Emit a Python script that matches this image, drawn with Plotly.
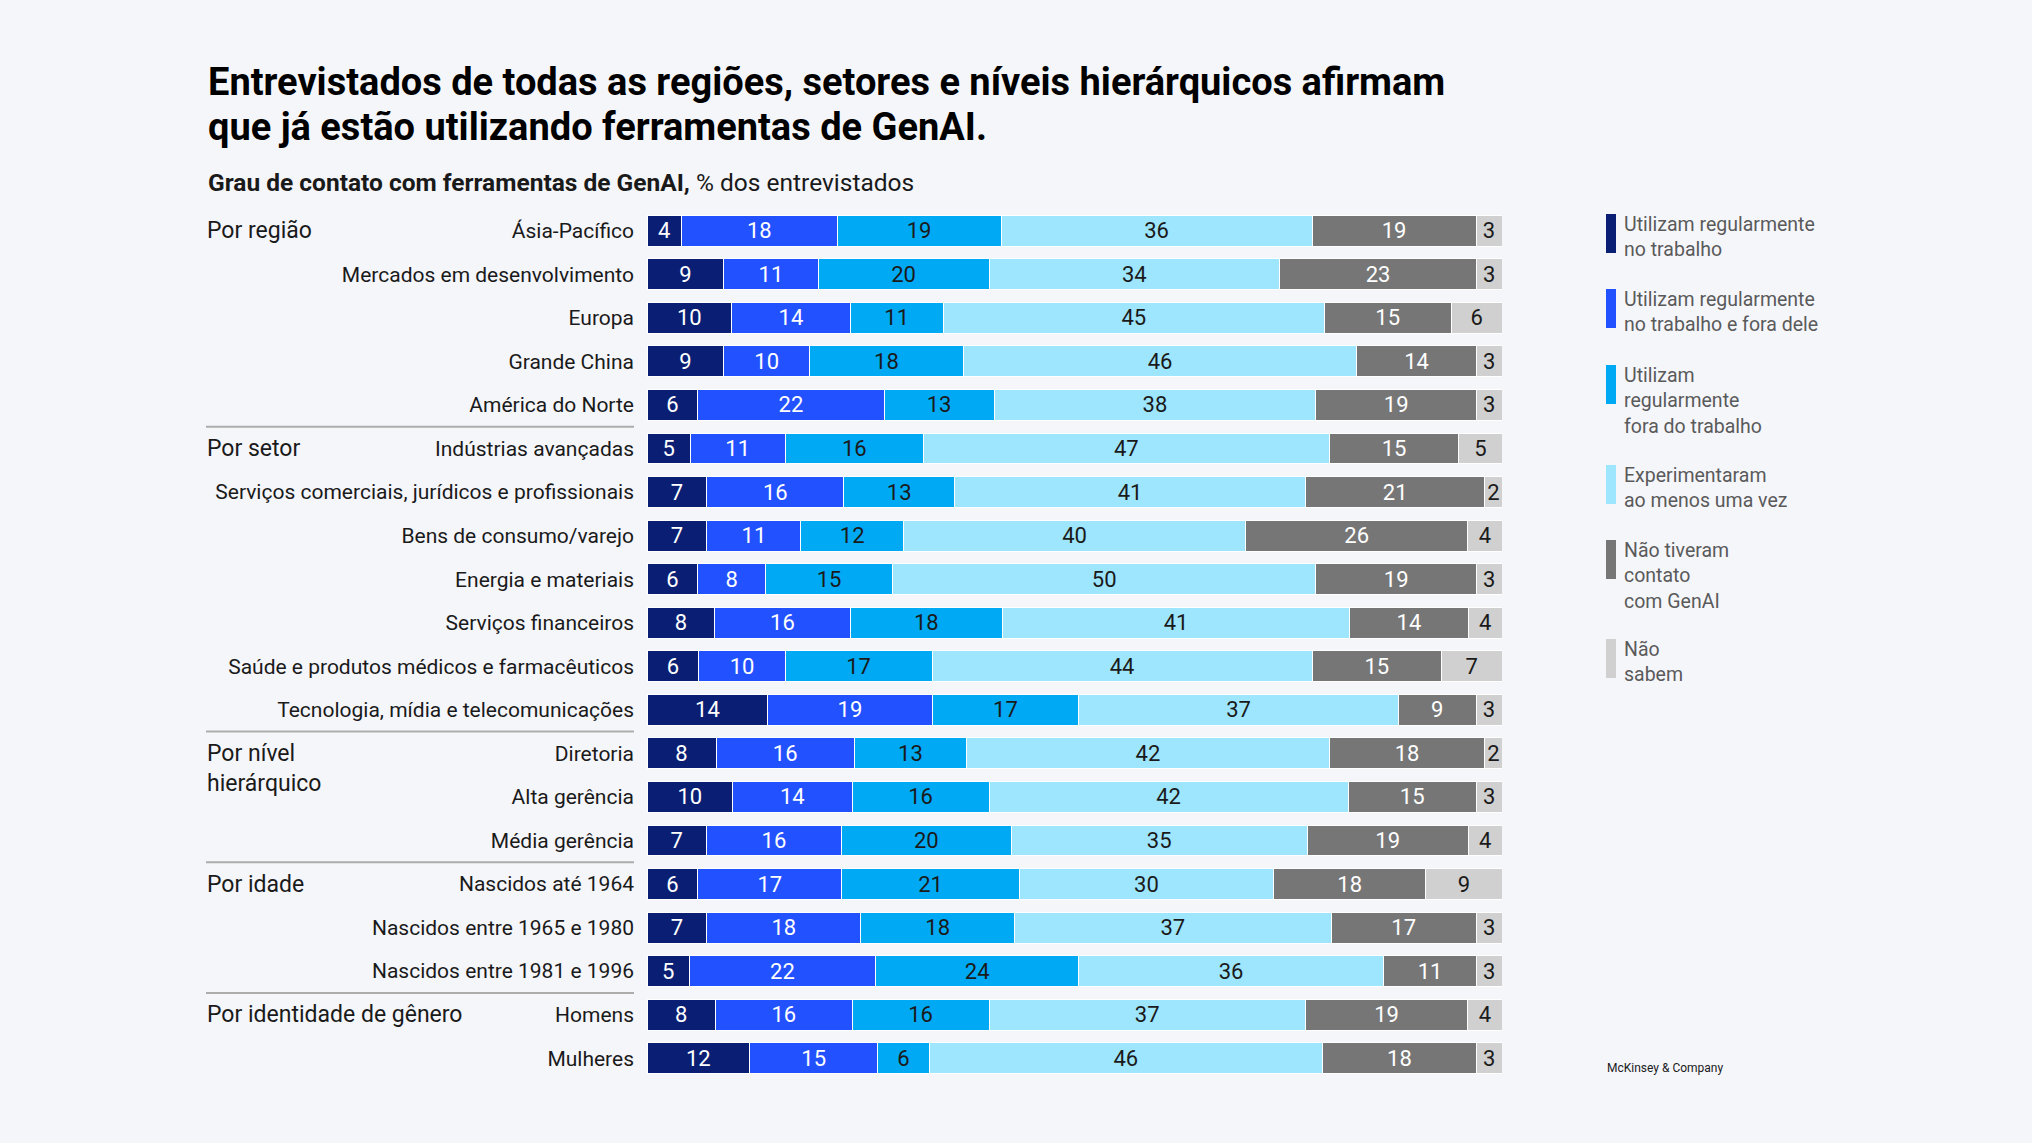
import plotly.graph_objects as go

categories = [
    "Ásia-Pacífico", "Mercados em desenvolvimento", "Europa", "Grande China", "América do Norte",
    "Indústrias avançadas", "Serviços comerciais, jurídicos e profissionais", "Bens de consumo/varejo",
    "Energia e materiais", "Serviços financeiros", "Saúde e produtos médicos e farmacêuticos",
    "Tecnologia, mídia e telecomunicações",
    "Diretoria", "Alta gerência", "Média gerência",
    "Nascidos até 1964", "Nascidos entre 1965 e 1980", "Nascidos entre 1981 e 1996",
    "Homens", "Mulheres",
]

series_names = [
    "Utilizam regularmente<br>no trabalho",
    "Utilizam regularmente<br>no trabalho e fora dele",
    "Utilizam<br>regularmente<br>fora do trabalho",
    "Experimentaram<br>ao menos uma vez",
    "Não tiveram<br>contato<br>com GenAI",
    "Não<br>sabem",
]

work_only = [4, 9, 10, 9, 6, 5, 7, 7, 6, 8, 6, 14, 8, 10, 7, 6, 7, 5, 8, 12]
work_and_outside = [18, 11, 14, 10, 22, 11, 16, 11, 8, 16, 10, 19, 16, 14, 16, 17, 18, 22, 16, 15]
outside_only = [19, 20, 11, 18, 13, 16, 13, 12, 15, 18, 17, 17, 13, 16, 20, 21, 18, 24, 16, 6]
tried_once = [36, 34, 45, 46, 38, 47, 41, 40, 50, 41, 44, 37, 42, 42, 35, 30, 37, 36, 37, 46]
no_contact = [19, 23, 15, 14, 19, 15, 21, 26, 19, 14, 15, 9, 18, 15, 19, 18, 17, 11, 19, 18]
dont_know = [3, 3, 6, 3, 3, 5, 2, 4, 3, 4, 7, 3, 2, 3, 4, 9, 3, 3, 4, 3]

series_values = [work_only, work_and_outside, outside_only, tried_once, no_contact, dont_know]

colors = ["#0A1F74", "#2251FF", "#00A9F4", "#9EE6FD", "#767676", "#D0D0D0"]
text_colors = ["#FFFFFF", "#FFFFFF", "#1A1A1A", "#1A1A1A", "#FFFFFF", "#1A1A1A"]

groups = [
    ("Por região", "Ásia-Pacífico"),
    ("Por setor", "Indústrias avançadas"),
    ("Por nível<br>hierárquico", "Diretoria"),
    ("Por idade", "Nascidos até 1964"),
    ("Por identidade de gênero", "Homens"),
]
separator_after = [4, 11, 14, 17]

title_lines = [
    "<b>Entrevistados de todas as regiões, setores e níveis hierárquicos afirmam</b>",
    "<b>que já estão utilizando ferramentas de GenAI.</b>",
]
subtitle = "<b>Grau de contato com ferramentas de GenAI,</b> % dos entrevistados"
source = "McKinsey & Company"

W, H = 2032, 1143
L, R, T, B = 647, 1502, 209, 1080
BG = "#F5F6FA"
FONT = "Roboto"


def px_x(p):
    return (p - L) / (R - L)


def px_y(p):
    return 1 - (p - T) / (B - T)


fig = go.Figure()
for name, vals, col, tcol in zip(series_names, series_values, colors, text_colors):
    fig.add_trace(go.Bar(
        y=categories, x=vals, orientation="h", name=name,
        marker=dict(color=col, line=dict(color="#FFFFFF", width=1)),
        text=vals, texttemplate="%{text}", textposition="inside",
        insidetextanchor="middle", textangle=0, constraintext="none",
        textfont=dict(family=FONT, size=22, color=tcol),
        hoverinfo="skip", showlegend=False,
    ))

annotations = []
for line, yc in zip(title_lines, [82, 127]):
    annotations.append(dict(text=line, xref="paper", yref="paper", x=px_x(206), y=px_y(yc),
                            xanchor="left", yanchor="middle", align="left", showarrow=False,
                            font=dict(family=FONT, size=38, color="#000000")))
annotations.append(dict(text=subtitle, xref="paper", yref="paper", x=px_x(206), y=px_y(183),
                        xanchor="left", yanchor="middle", align="left", showarrow=False,
                        font=dict(family=FONT, size=24.5, color="#1A1A1A")))
for label, cat in groups:
    multi = "<br>" in label
    annotations.append(dict(text=label, xref="paper", yref="y", x=px_x(205), y=cat,
                            xanchor="left", yanchor="top" if multi else "middle",
                            yshift=15 if multi else 0, align="left", showarrow=False,
                            font=dict(family=FONT, size=23, color="#1A1A1A")))
annotations.append(dict(text=source, xref="paper", yref="paper", x=px_x(1605), y=px_y(1068),
                        xanchor="left", yanchor="middle", showarrow=False,
                        font=dict(family=FONT, size=12, color="#1A1A1A")))

shapes = []
for idx in separator_after:
    shapes.append(dict(type="line", xref="paper", yref="y", x0=px_x(206), x1=px_x(634),
                       y0=idx + 0.5, y1=idx + 0.5, line=dict(color="#ADADAD", width=2)))

swatch_tops = [214, 289, 365, 465, 540, 639]
for name, col, top in zip(series_names, colors, swatch_tops):
    shapes.append(dict(type="rect", xref="paper", yref="paper", x0=px_x(1606), x1=px_x(1616),
                       y0=px_y(top), y1=px_y(top + 39), fillcolor=col, line=dict(width=0)))
    annotations.append(dict(text=name, xref="paper", yref="paper", x=px_x(1622), y=px_y(top - 3),
                            xanchor="left", yanchor="top", align="left", showarrow=False,
                            font=dict(family=FONT, size=19.5, color="#5A5A5A")))

fig.update_layout(
    width=W, height=H, barmode="stack", barnorm="percent", bargap=0.29,
    paper_bgcolor=BG, plot_bgcolor=BG,
    margin=dict(l=L, r=W - R, t=T, b=H - B, pad=0),
    xaxis=dict(range=[0, 100], visible=False, fixedrange=True),
    yaxis=dict(categoryorder="array", categoryarray=categories, autorange="reversed",
               showgrid=False, zeroline=False, showline=False, ticks="", fixedrange=True,
               ticklabelstandoff=12, tickfont=dict(family=FONT, size=21, color="#1A1A1A")),
    annotations=annotations, shapes=shapes,
    font=dict(family=FONT),
)

fig.write_html("out.html", config={"displayModeBar": False},
               post_script="document.body.style.margin='0';")
